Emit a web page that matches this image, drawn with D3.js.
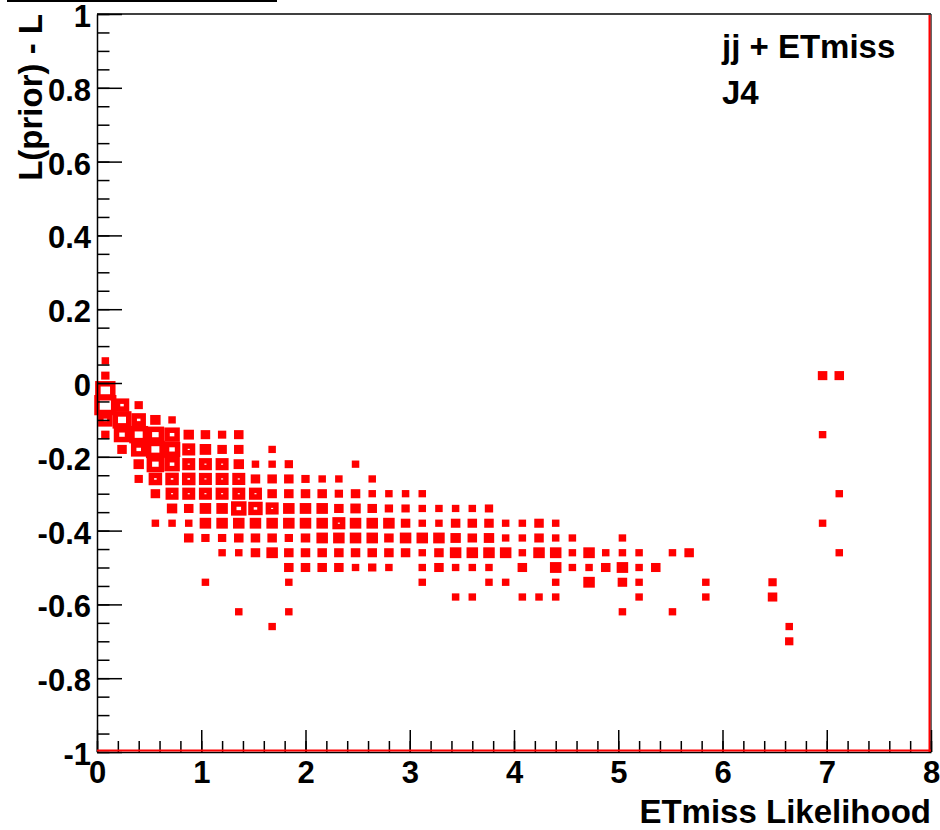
<!DOCTYPE html>
<html lang="en">
<head>
  <meta charset="utf-8">
  <title>ETmiss Likelihood | J4</title>
  <script src="https://d3js.org/d3.v7.min.js"></script>
  <style>
    body { margin: 0; background: white; }
    text { font-family: "Liberation Sans", Arial, sans-serif; font-weight: bold; fill: black; }
  </style>
</head>
<body>
<svg id="chart" width="940" height="830"></svg>
<script>
  // axis ticks
  var xMajor = [0, 1, 2, 3, 4, 5, 6, 7, 8];
  var yMajor = [-1, -0.8, -0.6, -0.4, -0.2, 0, 0.2, 0.4, 0.6, 0.8, 1];

  // TH2 binning: 50 x 50 over [0,8] x [-1,1]
  var binW = 0.16, binH = 0.04;

  // low x edge of each filled column, then low y edges + counts of its cells
  var colX = [0.00, 0.16, 0.32, 0.48, 0.64, 0.80, 0.96, 1.12, 1.28, 1.44, 1.60, 1.76, 1.92, 2.08,
              2.24, 2.40, 2.56, 2.72, 2.88, 3.04, 3.20, 3.36, 3.52, 3.68, 3.84, 4.00, 4.16, 4.32,
              4.48, 4.64, 4.80, 4.96, 5.12, 5.28, 5.44, 5.60, 5.76, 6.40, 6.56, 6.88, 7.04];

  var colY = [
    [0.04, 0.00, -0.04, -0.08, -0.12, -0.16],
    [-0.08, -0.12, -0.16, -0.20],
    [-0.08, -0.12, -0.16, -0.20, -0.24, -0.28],
    [-0.12, -0.16, -0.20, -0.24, -0.28, -0.32, -0.40],
    [-0.12, -0.16, -0.20, -0.24, -0.28, -0.32, -0.36, -0.40],
    [-0.16, -0.20, -0.24, -0.28, -0.32, -0.36, -0.40, -0.44],
    [-0.16, -0.20, -0.24, -0.28, -0.32, -0.36, -0.40, -0.44, -0.56],
    [-0.16, -0.20, -0.24, -0.28, -0.32, -0.36, -0.40, -0.44, -0.48],
    [-0.16, -0.20, -0.24, -0.28, -0.32, -0.36, -0.40, -0.44, -0.48, -0.64],
    [-0.24, -0.28, -0.32, -0.36, -0.40, -0.44, -0.48],
    [-0.20, -0.24, -0.28, -0.32, -0.36, -0.40, -0.44, -0.48, -0.68],
    [-0.24, -0.28, -0.32, -0.36, -0.40, -0.44, -0.48, -0.52, -0.56, -0.64],
    [-0.28, -0.32, -0.36, -0.40, -0.44, -0.48, -0.52],
    [-0.28, -0.32, -0.36, -0.40, -0.44, -0.48, -0.52],
    [-0.28, -0.32, -0.36, -0.40, -0.44, -0.48, -0.52],
    [-0.24, -0.32, -0.36, -0.40, -0.44, -0.48, -0.52],
    [-0.28, -0.32, -0.36, -0.40, -0.44, -0.48, -0.52],
    [-0.32, -0.36, -0.40, -0.44, -0.48, -0.52],
    [-0.32, -0.36, -0.40, -0.44, -0.48],
    [-0.32, -0.36, -0.40, -0.44, -0.48, -0.52, -0.56],
    [-0.36, -0.40, -0.44, -0.48, -0.52],
    [-0.36, -0.40, -0.44, -0.48, -0.52, -0.60],
    [-0.36, -0.40, -0.44, -0.48, -0.52, -0.60],
    [-0.36, -0.40, -0.44, -0.48, -0.52, -0.56],
    [-0.40, -0.44, -0.48, -0.56],
    [-0.40, -0.44, -0.48, -0.52, -0.60],
    [-0.40, -0.44, -0.48, -0.60],
    [-0.40, -0.44, -0.48, -0.52, -0.56, -0.60],
    [-0.44, -0.48, -0.52],
    [-0.48, -0.52, -0.56],
    [-0.48, -0.52],
    [-0.44, -0.48, -0.52, -0.56, -0.64],
    [-0.48, -0.52, -0.56, -0.60],
    [-0.52],
    [-0.48, -0.64],
    [-0.48],
    [-0.56, -0.60],
    [-0.56, -0.60],
    [-0.68, -0.72],
    [0.00, -0.16, -0.40],
    [0.00, -0.32, -0.48]
  ];

  var colN = [
    [1, 2, 55, 69, 20, 2],
    [20, 45, 30, 4],
    [2, 20, 45, 25, 6, 2],
    [6, 36, 45, 36, 16, 4, 1],
    [1, 25, 30, 25, 16, 14, 6, 1],
    [6, 14, 14, 16, 14, 4, 1, 4],
    [4, 9, 14, 14, 14, 9, 9, 2, 1],
    [2, 4, 14, 14, 14, 9, 9, 2, 1],
    [4, 4, 6, 14, 14, 25, 9, 4, 1, 1],
    [1, 4, 14, 20, 9, 4, 4],
    [1, 1, 4, 4, 14, 9, 4, 9, 1],
    [2, 4, 4, 9, 9, 2, 4, 4, 1, 1],
    [2, 4, 9, 9, 4, 4, 4],
    [1, 4, 9, 9, 9, 4, 4],
    [1, 2, 4, 14, 9, 4, 4],
    [1, 4, 6, 9, 9, 4, 1],
    [1, 1, 4, 9, 9, 4, 2],
    [1, 2, 9, 4, 4, 1],
    [1, 2, 4, 9, 4],
    [1, 1, 1, 9, 1, 1, 1],
    [1, 1, 9, 4, 4],
    [1, 4, 6, 9, 1, 1],
    [1, 4, 4, 9, 1, 1],
    [2, 4, 6, 9, 1, 1],
    [1, 1, 9, 1],
    [1, 1, 1, 4, 1],
    [4, 4, 9, 1],
    [1, 1, 9, 9, 1, 1],
    [1, 1, 1],
    [9, 1, 9],
    [1, 4],
    [1, 1, 9, 4, 1],
    [1, 1, 1, 1],
    [4],
    [1, 1],
    [4],
    [1, 1],
    [2, 4],
    [1, 2],
    [4, 1, 1],
    [4, 1, 1]
  ];

  var cells = [];
  colX.forEach(function(xl, i) {
    colY[i].forEach(function(yl, k) {
      cells.push({ x: xl, y: yl, n: colN[i][k] });
    });
  });

  var svg = d3.select("#chart"),
      padL = 97, padR = 931, padT = 14, padB = 752;

  var x = d3.scaleLinear().domain([0, 8]).range([padL, padR]),
      y = d3.scaleLinear().domain([-1, 1]).range([padB, padT]),
      frac = d3.scaleSqrt().domain([0, d3.max(cells, function(d) { return d.n; })]).range([0, 1]);

  var bwPx = x(binW) - x(0),
      bhPx = y(0) - y(binH);

  // pad title box remnant
  svg.append("line")
     .attr("x1", 7).attr("x2", 277).attr("y1", 1).attr("y2", 1)
     .attr("stroke", "black").attr("stroke-width", 2);

  // boxes
  svg.append("g").selectAll("rect")
     .data(cells)
     .enter().append("rect")
     .attr("x", function(d) { return x(d.x + binW / 2) - bwPx * frac(d.n) / 2; })
     .attr("y", function(d) { return y(d.y + binH / 2) - bhPx * frac(d.n) / 2; })
     .attr("width", function(d) { return bwPx * frac(d.n); })
     .attr("height", function(d) { return bhPx * frac(d.n); })
     .attr("fill", "none")
     .attr("stroke", "#ff0000")
     .attr("stroke-width", 5.5);

  // frame
  svg.append("line").attr("x1", padL).attr("x2", padR).attr("y1", padT).attr("y2", padT)
     .attr("stroke", "black").attr("stroke-width", 1.5);
  svg.append("line").attr("x1", padR).attr("x2", padR).attr("y1", padT).attr("y2", padB)
     .attr("stroke", "#333").attr("stroke-width", 1.5);
  svg.append("line").attr("x1", padR - 1.5).attr("x2", padR - 1.5).attr("y1", padT + 1).attr("y2", padB)
     .attr("stroke", "#ff0000").attr("stroke-width", 2);

  var fmt = function(d) { return String(+d.toFixed(1)); };

  // y axis
  var yMinor = d3.range(-1, 1.0001, 0.05).map(function(v) { return +v.toFixed(2); });
  svg.append("g")
     .attr("transform", "translate(" + padL + ",0)")
     .call(d3.axisLeft(y).tickValues(yMinor).tickSize(-12.5).tickFormat(""))
     .call(function(g) { g.select(".domain").remove(); });
  var gy = svg.append("g")
     .attr("transform", "translate(" + padL + ",0)")
     .call(d3.axisLeft(y).tickValues(yMajor).tickSizeInner(-25).tickSizeOuter(0).tickPadding(6).tickFormat(fmt));
  gy.selectAll("text").attr("font-size", "31px").attr("dy", "0.4em");

  // x axis
  var xMinor = d3.range(0, 8.0001, 0.2).map(function(v) { return +v.toFixed(1); });
  svg.append("g")
     .attr("transform", "translate(0," + padB + ")")
     .call(d3.axisBottom(x).tickValues(xMinor).tickSize(-11).tickFormat(""))
     .call(function(g) { g.select(".domain").remove(); });
  var gx = svg.append("g")
     .attr("transform", "translate(0," + padB + ")")
     .call(d3.axisBottom(x).tickValues(xMajor).tickSizeInner(-22).tickSizeOuter(0).tickPadding(9).tickFormat(fmt));
  gx.selectAll("text").attr("font-size", "31px");

  svg.selectAll(".domain").attr("stroke-width", 1.5);
  svg.selectAll(".tick line").attr("stroke-width", 1.5);

  svg.append("line").attr("x1", padL).attr("x2", padR).attr("y1", padB - 1.5).attr("y2", padB - 1.5)
     .attr("stroke", "#ff0000").attr("stroke-width", 2);

  // titles
  svg.append("text")
     .attr("x", padR).attr("y", 823)
     .attr("text-anchor", "end")
     .attr("font-size", "33px")
     .text("ETmiss Likelihood");

  svg.append("text")
     .attr("transform", "translate(42," + padT + ") rotate(-90)")
     .attr("text-anchor", "end")
     .attr("font-size", "33px")
     .text("L(prior) - L");

  svg.append("text")
     .attr("x", 722).attr("y", 58)
     .attr("font-size", "33px")
     .text("jj + ETmiss");

  svg.append("text")
     .attr("x", 722).attr("y", 104)
     .attr("font-size", "33px")
     .text("J4");
</script>
</body>
</html>
